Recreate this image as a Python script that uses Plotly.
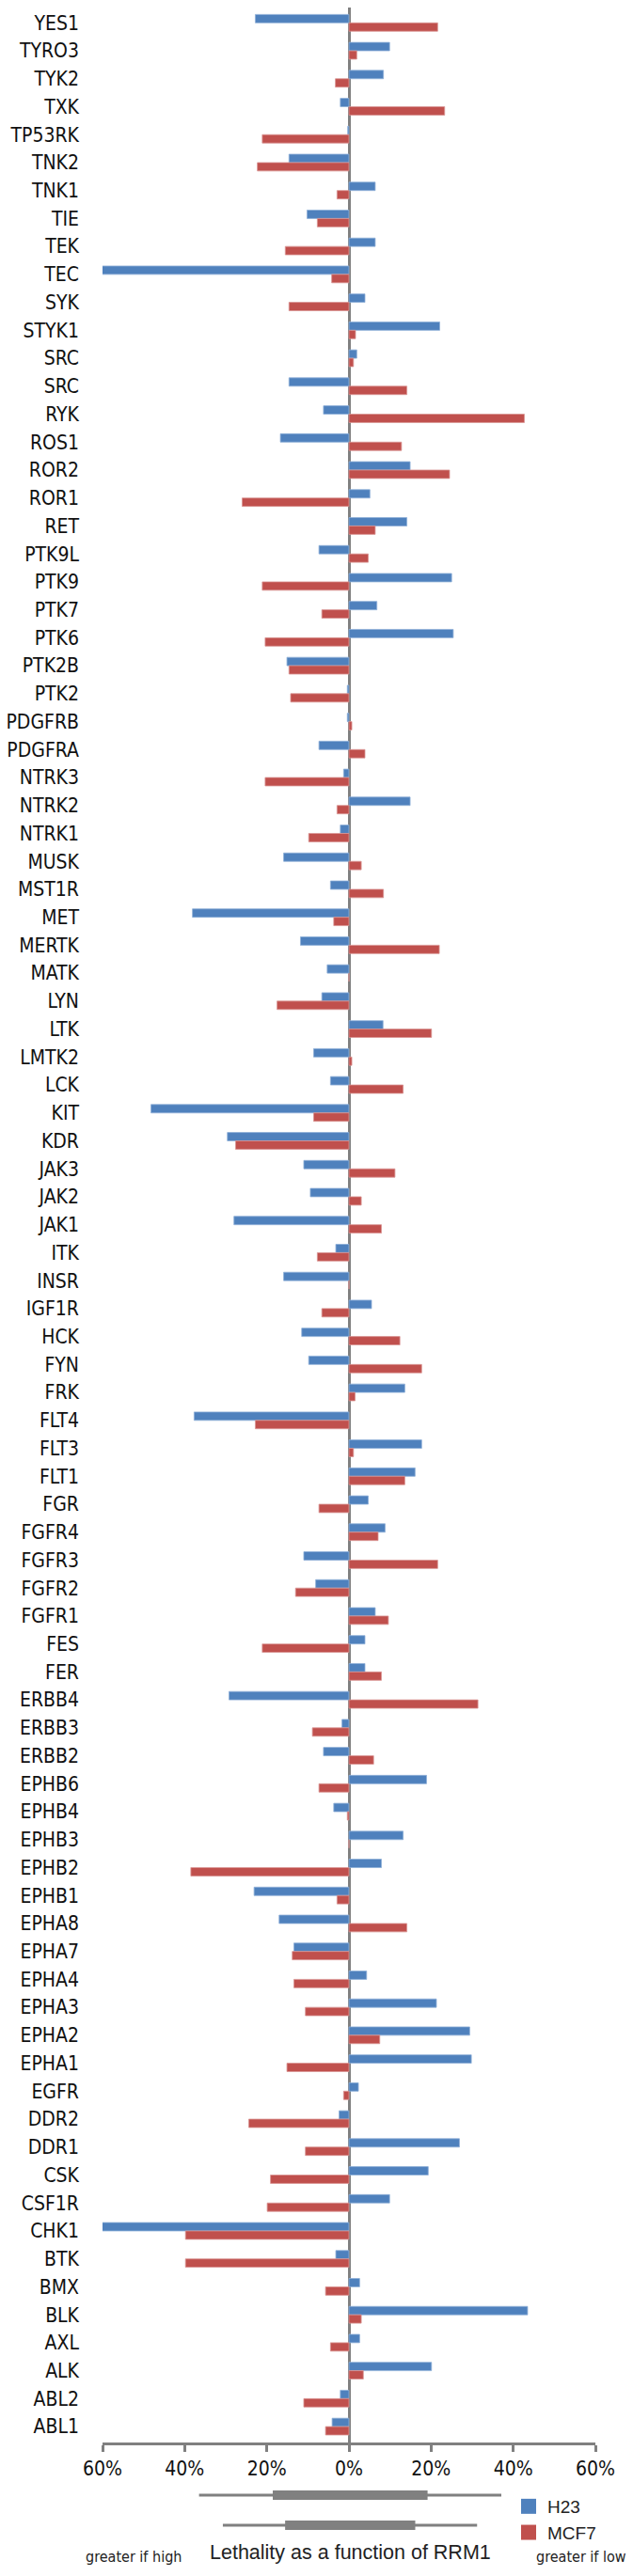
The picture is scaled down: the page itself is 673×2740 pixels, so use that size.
import plotly.graph_objects as go

# ---------------- data ----------------
kinases = ["YES1", "TYRO3", "TYK2", "TXK", "TP53RK", "TNK2", "TNK1", "TIE", "TEK", "TEC",
           "SYK", "STYK1", "SRC", "SRC", "RYK", "ROS1", "ROR2", "ROR1", "RET", "PTK9L",
           "PTK9", "PTK7", "PTK6", "PTK2B", "PTK2", "PDGFRB", "PDGFRA", "NTRK3", "NTRK2", "NTRK1",
           "MUSK", "MST1R", "MET", "MERTK", "MATK", "LYN", "LTK", "LMTK2", "LCK", "KIT",
           "KDR", "JAK3", "JAK2", "JAK1", "ITK", "INSR", "IGF1R", "HCK", "FYN", "FRK",
           "FLT4", "FLT3", "FLT1", "FGR", "FGFR4", "FGFR3", "FGFR2", "FGFR1", "FES", "FER",
           "ERBB4", "ERBB3", "ERBB2", "EPHB6", "EPHB4", "EPHB3", "EPHB2", "EPHB1", "EPHA8", "EPHA7",
           "EPHA4", "EPHA3", "EPHA2", "EPHA1", "EGFR", "DDR2", "DDR1", "CSK", "CSF1R", "CHK1",
           "BTK", "BMX", "BLK", "AXL", "ALK", "ABL2", "ABL1"]

h23 = [-22.8, 9.9, 8.4, -2.1, -0.3, -14.6, 6.4, -10.2, 6.4, -65.2,
       3.9, 22.1, 1.9, -14.6, -6.2, -16.7, 14.9, 5.1, 14.1, -7.3,
       25.0, 6.8, 25.4, -15.1, -0.4, -0.4, -7.3, -1.3, 14.9, -2.1,
       -15.9, -4.5, -38.1, -11.8, -5.3, -6.6, 8.3, -8.6, -4.5, -48.2,
       -29.6, -11.0, -9.4, -28.0, -3.2, -15.9, 5.5, -11.5, -9.8, 13.6,
       -37.7, 17.7, 16.1, 4.7, 8.8, -11.0, -8.1, 6.4, 3.9, 3.9,
       -29.2, -1.7, -6.2, 18.9, -3.7, 13.2, 7.9, -23.1, -17.0, -13.4,
       4.3, 21.3, 29.4, 29.8, 2.3, -2.4, 26.9, 19.3, 9.9, -60.7,
       -3.2, 2.6, 43.5, 2.6, 20.1, -2.1, -4.1]

mcf7 = [21.6, 1.9, -3.3, 23.3, -21.1, -22.3, -2.9, -7.7, -15.5, -4.2,
        -14.6, 1.6, 1.1, 14.1, 42.7, 12.8, 24.5, -26.0, 6.4, 4.7,
        -21.1, -6.6, -20.4, -14.6, -14.2, 0.7, 3.9, -20.4, -2.9, -9.8,
        3.0, 8.4, -3.7, 22.0, 0.0, -17.5, 20.1, 0.7, 13.2, -8.6,
        -27.6, 11.2, 3.0, 7.9, -7.7, 0.0, -6.6, 12.4, 17.7, 1.5,
        -22.8, 1.1, 13.6, -7.3, 7.1, 21.6, -13.0, 9.6, -21.1, 7.9,
        31.4, -8.9, 6.0, -7.3, -0.4, 0.0, -38.5, -2.9, 14.1, -13.8,
        -13.4, -10.6, 7.5, -15.1, -1.3, -24.4, -10.6, -19.1, -19.9, -39.8,
        -39.8, -5.7, 3.0, -4.5, 3.5, -11.0, -5.7]

x_tick_vals = [-60, -40, -20, 0, 20, 40, 60]
x_tick_text = ["60%", "40%", "20%", "0%", "20%", "40%", "60%"]

# distribution summaries (drawn as box plots under the axis)
box_series = ["H23", "MCF7"]
box_pos = [1, 0]
box_lowerfence = [-36.5, -30.7]
box_q1 = [-18.2, -15.2]
box_median = [0.3, 0.3]
box_q3 = [18.8, 15.8]
box_upperfence = [37.1, 31.2]

# ---------------- style ----------------
W, H = 673, 2740
BLUE = "#4F81BD"
RED = "#C0504D"
GRAY = "#808080"
NARROW = "Liberation Sans Narrow, DejaVu Sans Condensed, Arial Narrow, sans-serif"
REG = "Liberation Sans, Arial, sans-serif"

PL, PR, PT, PB = 109, 633, 8, 2705          # paper area in pixels


def fx(px):
    return (px - PL) / (PR - PL)


def fy(py):
    return (PB - py) / (PB - PT)


n = len(kinases)
pos = list(range(n))
row_px = 29.73
y_top = -(24.3 - PT) / row_px
y_bot = (2598 - 24.3) / row_px

fig = go.Figure()
fig.add_trace(go.Bar(x=h23, y=pos, orientation="h", name="H23",
                     marker=dict(color=BLUE, line=dict(color="#8FB0D8", width=0.8)),
                     cliponaxis=False, showlegend=False, xaxis="x", yaxis="y"))
fig.add_trace(go.Bar(x=mcf7, y=pos, orientation="h", name="MCF7",
                     marker=dict(color=RED, line=dict(color="#D99694", width=0.8)),
                     cliponaxis=False, showlegend=False, xaxis="x", yaxis="y"))

# legend entries
for nm, col in [("H23", BLUE), ("MCF7", RED)]:
    fig.add_trace(go.Scatter(x=[None], y=[None], mode="markers", name=nm,
                             marker=dict(symbol="square", size=16, color=col),
                             xaxis="x", yaxis="y"))

# box plots
for i, nm in enumerate(box_series):
    fig.add_trace(go.Box(y=[box_pos[i]], q1=[box_q1[i]], median=[box_median[i]], q3=[box_q3[i]],
                         lowerfence=[box_lowerfence[i]], upperfence=[box_upperfence[i]],
                         orientation="h", name=nm, showlegend=False,
                         fillcolor=GRAY, line=dict(color=GRAY, width=3),
                         whiskerwidth=0, width=0.22, boxpoints=False,
                         xaxis="x2", yaxis="y2", hoverinfo="skip"))

fig.update_layout(
    width=W, height=H,
    margin=dict(l=PL, r=W - PR, t=PT, b=H - PB, autoexpand=False),
    paper_bgcolor="white", plot_bgcolor="white",
    barmode="group", bargap=0.4, bargroupgap=0,
    showlegend=True,
    legend=dict(x=fx(542), y=fy(2647), xanchor="left", yanchor="top",
                font=dict(family=REG, size=19, color="#222"),
                bgcolor="rgba(0,0,0,0)", tracegroupgap=0, itemsizing="trace"),
    xaxis=dict(domain=[0, 1], range=[-60, 60], tickvals=x_tick_vals, ticktext=x_tick_text,
               showgrid=False, zeroline=True, zerolinecolor=GRAY, zerolinewidth=2.5,
               showline=True, linecolor=GRAY, linewidth=2.5,
               ticks="outside", ticklen=7, tickwidth=2.5, tickcolor=GRAY,
               tickfont=dict(family=NARROW, size=21, color="#111"),
               anchor="y", fixedrange=True),
    yaxis=dict(domain=[fy(2598), 1], range=[y_bot, y_top], tickvals=pos, ticktext=kinases,
               showgrid=False, zeroline=False, showline=False, ticks="",
               tickfont=dict(family=NARROW, size=21, color="#111"),
               ticklabelstandoff=24, automargin=False, anchor="x", fixedrange=True),
    xaxis2=dict(domain=[0, 1], range=[-60, 60], visible=False, anchor="y2", matches="x"),
    yaxis2=dict(domain=[fy(2702), fy(2638)], range=[-0.5, 1.5], visible=False, anchor="x2",
                fixedrange=True),
    annotations=[
        dict(text="greater if high", xref="paper", yref="paper", x=fx(89), y=fy(2719),
             xanchor="left", yanchor="middle", showarrow=False,
             font=dict(family=NARROW, size=16, color="#222")),
        dict(text="greater if low", xref="paper", yref="paper", x=fx(668), y=fy(2719),
             xanchor="right", yanchor="middle", showarrow=False,
             font=dict(family=NARROW, size=16, color="#222")),
        dict(text="Lethality as a function of RRM1", xref="paper", yref="paper",
             x=fx(372.7), y=fy(2715), xanchor="center", yanchor="middle", showarrow=False,
             font=dict(family=REG, size=21.5, color="#222")),
    ],
)

fig.write_html("out.html", config={"displayModeBar": False},
               post_script="document.body.style.margin='0';document.body.style.overflow='hidden';")
